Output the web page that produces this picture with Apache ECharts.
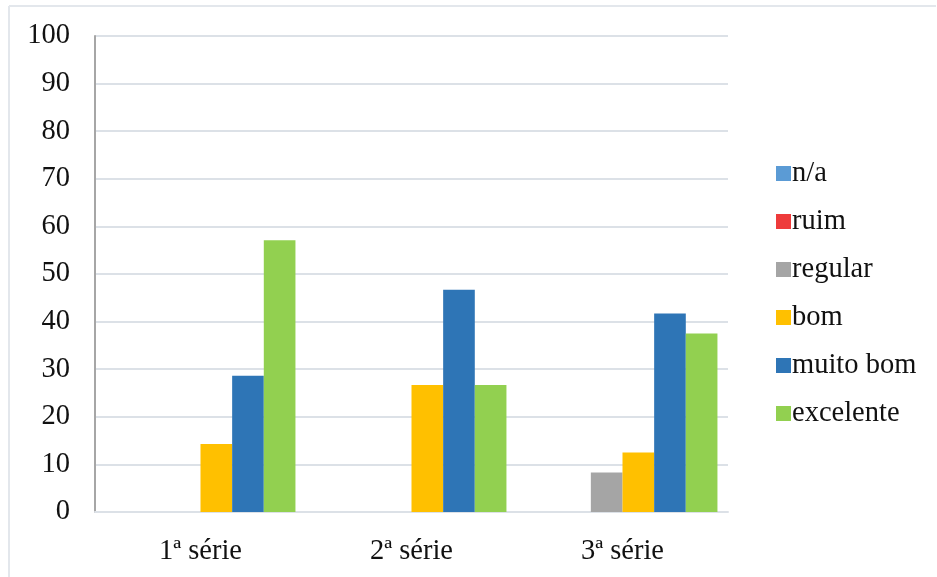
<!DOCTYPE html>
<html>
<head>
<meta charset="utf-8">
<script src="https://cdn.jsdelivr.net/npm/echarts@6/dist/echarts.min.js"></script>
<style>
  html, body { margin: 0; padding: 0; background: #fff; }
  #chart { width: 937px; height: 577px; }
</style>
</head>
<body>
<div id="chart"></div>
<script>
var categories = ['1ª série', '2ª série', '3ª série'];
var seriesNames = ['n/a', 'ruim', 'regular', 'bom', 'muito bom', 'excelente'];
var naValues = [0, 0, 0];
var ruimValues = [0, 0, 0];
var regularValues = [0, 0, 8.3];
var bomValues = [14.3, 26.7, 12.5];
var muitoBomValues = [28.6, 46.7, 41.7];
var excelenteValues = [57.1, 26.7, 37.5];
var yTicks = [0, 10, 20, 30, 40, 50, 60, 70, 80, 90, 100];

var colors = ['#5B9BD5', '#EE3B3B', '#A5A5A5', '#FFC000', '#2E75B6', '#92D050'];
var allValues = [naValues, ruimValues, regularValues, bomValues, muitoBomValues, excelenteValues];

var chart = echarts.init(document.getElementById('chart'), null, { renderer: 'canvas' });

var fontFamily = '"Liberation Serif", "DejaVu Serif", serif';

var series = seriesNames.map(function (name, i) {
  return {
    name: name,
    type: 'bar',
    data: allValues[i].map(function (v) { return v === 0 ? null : v; }),
    barGap: '0%',
    barCategoryGap: '10%',
    itemStyle: { color: colors[i] },
    emphasis: { disabled: true }
  };
});

var option = {
  animation: false,
  color: colors,
  grid: {
    left: 95,
    right: 209,
    top: 36,
    bottom: 65
  },
  legend: {
    orient: 'vertical',
    left: 771,
    top: 154,
    itemWidth: 15,
    itemHeight: 15,
    itemGap: 19,
    icon: 'rect',
    textStyle: { fontFamily: fontFamily, fontSize: 28.5, lineHeight: 29, color: '#111', padding: [0, 0, 0, -4] },
    data: seriesNames
  },
  xAxis: {
    type: 'category',
    data: categories,
    axisLine: { lineStyle: { color: '#DCE1E7', width: 2 } },
    axisTick: { show: false },
    axisLabel: { fontFamily: fontFamily, fontSize: 28.5, color: '#111', margin: 25 }
  },
  yAxis: {
    type: 'value',
    min: yTicks[0],
    max: yTicks[yTicks.length - 1],
    interval: 10,
    axisLine: { show: true, lineStyle: { color: '#A6A6A6', width: 2 } },
    axisTick: { show: false },
    axisLabel: { fontFamily: fontFamily, fontSize: 28.5, color: '#111', margin: 25 },
    splitLine: { lineStyle: { color: '#DCE1E7', width: 2 } }
  },
  graphic: [
    { type: 'line', shape: { x1: 9, y1: 6, x2: 936, y2: 6 }, style: { stroke: '#E3E7EC', lineWidth: 2 } },
    { type: 'line', shape: { x1: 9, y1: 6, x2: 9, y2: 577 }, style: { stroke: '#E3E7EC', lineWidth: 2 } }
  ],
  series: series
};

chart.setOption(option);
</script>
</body>
</html>
